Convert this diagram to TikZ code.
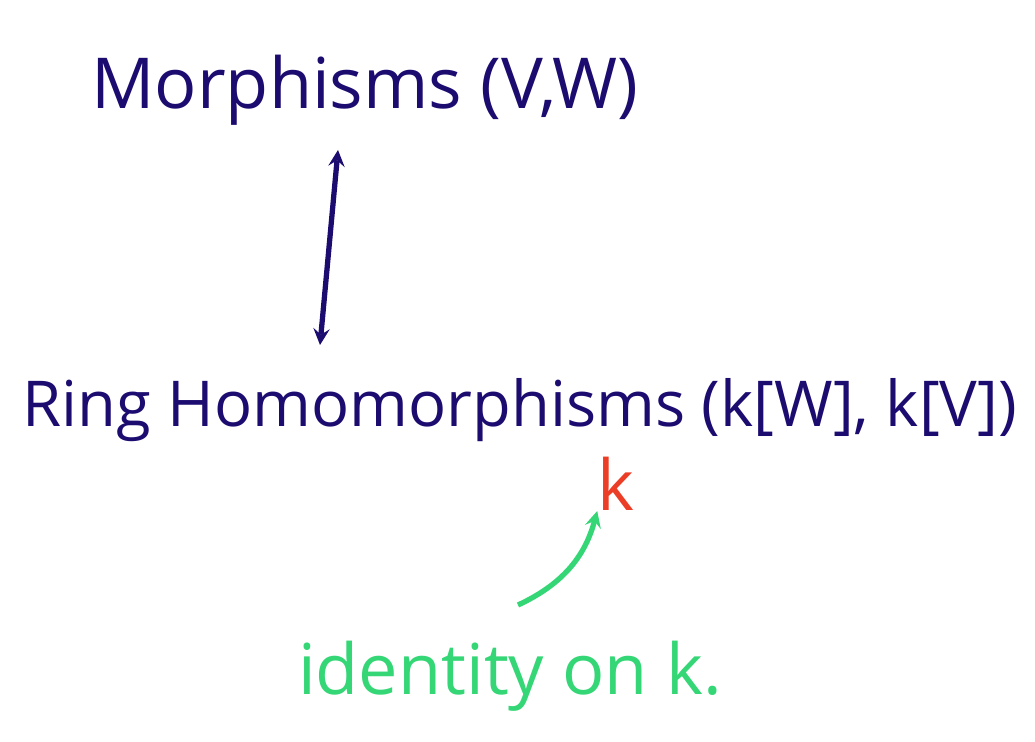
\documentclass[tikz,border=0pt]{standalone}
\usepackage{fontspec}
\setmainfont{Open Sans}
\definecolor{ink}{RGB}{28,12,112}
\definecolor{redink}{RGB}{236,62,38}
\definecolor{greenink}{RGB}{52,214,118}

\begin{document}
\begin{tikzpicture}[x=0.02cm, y=-0.02cm, >=stealth,
    navytext/.style={text=ink, font=\fontsize{36}{38}\selectfont, inner sep=0pt},
    greentext/.style={text=greenink, font=\fontsize{40}{42}\selectfont, inner sep=0pt}]
  \useasboundingbox (0,0) rectangle (1035,742);
  \node[navytext, font=\fontsize{40}{42}\selectfont] (morph) at (365,90) {Morphisms (V,W)};
  \node[navytext] (ring) at (520,410) {Ring Homomorphisms (k[W], k[V])};
  \node[text=redink, font=\fontsize{40}{42}\selectfont, inner sep=0pt] (kred) at (616,484) {k};
  \node[greentext] (ident) at (510,676) {identity on k.};
  \draw[<->, ink, line width=3pt] (338,150) -- (320,345);
  \coordinate (gstart) at (518,605);
  \draw[->, greenink, line width=3pt] (gstart) to[bend right=25] (kred.south west);
\end{tikzpicture}
\end{document}
